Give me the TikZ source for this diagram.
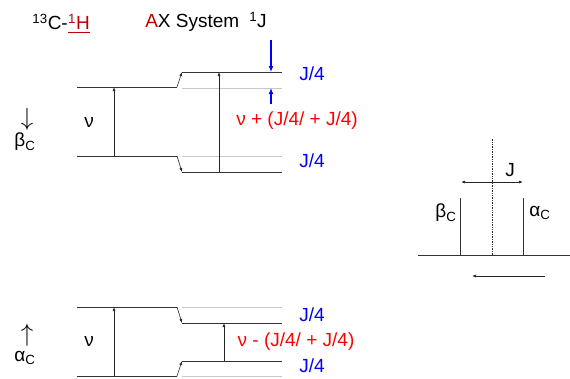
\documentclass[tikz,border=0pt]{standalone}
\usepackage{fontspec}
\setmainfont{Liberation Sans}
\usetikzlibrary{arrows.meta}
\definecolor{dred}{RGB}{192,0,0}
\definecolor{bblue}{RGB}{0,0,255}
\definecolor{rred}{RGB}{255,0,0}
\begin{document}
\begin{tikzpicture}[x=1pt,y=-1pt,
  font=\fontsize{19}{22}\selectfont,
  level/.style={draw=black!80, line width=0.9pt},
  ghost/.style={draw=black!22, line width=0.8pt},
  tr/.style={-{Latex[length=4pt,width=3pt]}, line width=0.6pt, draw=black!85},
  jarr/.style={-{Latex[length=6pt,width=5pt]}, line width=1.6pt, draw=bblue},
  lbl/.style={inner sep=0pt},
  spin/.style={inner sep=0pt, font=\fontsize{24}{26}\selectfont},
  jlbl/.style={inner sep=0pt, text=bblue},
  rlbl/.style={inner sep=0pt, text=rred}]
\useasboundingbox (0,0) rectangle (570,378);
% header
\node[lbl, anchor=east] (h1) at (68,22) {\textsuperscript{13}C-};
\node[lbl, anchor=west, text=dred] (h2) at (h1.east) {\textsuperscript{1}H};
\draw[dred, line width=1.4pt] ([yshift=-2.5pt]h2.south west) -- ([yshift=-2.5pt]h2.south east);
\node[lbl] (ax) at (206,22) {\textcolor{dred}{A}X System\hspace{10pt}\textsuperscript{1}J};
% top block (beta_C)
\coordinate (tl1a) at (77,87);   \coordinate (tl1b) at (177,87);
\coordinate (tl2a) at (77,156);  \coordinate (tl2b) at (177,156);
\coordinate (tr1a) at (182,72);  \coordinate (tr1b) at (282,72);
\coordinate (tr2a) at (182,172); \coordinate (tr2b) at (282,172);
\coordinate (tg1a) at (182,88);  \coordinate (tg1b) at (282,88);
\coordinate (tg2a) at (182,156); \coordinate (tg2b) at (282,156);
\draw[ghost] (tg1a) -- (tg1b);
\draw[ghost] (tg2a) -- (tg2b);
\draw[level] (tl1a) -- (tl1b);
\draw[level] (tl2a) -- (tl2b);
\draw[level] (tr1a) -- (tr1b);
\draw[level] (tr2a) -- (tr2b);
\draw[tr] (tl1b) -- (tr1a);
\draw[tr] (tl2b) -- (tr2a);
\coordinate (va) at (114,156); \coordinate (vb) at (114,87);
\draw[tr] (va) -- (vb);
\coordinate (wa) at (219,172); \coordinate (wb) at (219,72);
\draw[tr] (wa) -- (wb);
\coordinate (ja) at (271,40); \coordinate (jb) at (271,72);
\draw[jarr] (ja) -- (jb);
\coordinate (jc) at (271,104); \coordinate (jd) at (271,88);
\draw[jarr] (jc) -- (jd);
\node[jlbl] (j1) at (312,74) {J/4};
\node[jlbl] (j2) at (312,161) {J/4};
\node[rlbl] (n1) at (297,121) {ν + (J/4/ + J/4)};
\node[lbl] (nu1) at (89,122) {ν};
\node[spin] (ar1) at (27,119) {$\downarrow$};
\node[lbl] (b1) at (25,142) {β\textsubscript{C}};
% bottom block (alpha_C)
\coordinate (bl1a) at (77,307);  \coordinate (bl1b) at (177,307);
\coordinate (bl2a) at (77,376);  \coordinate (bl2b) at (177,376);
\coordinate (br1a) at (182,323); \coordinate (br1b) at (282,323);
\coordinate (br2a) at (182,361); \coordinate (br2b) at (282,361);
\coordinate (bg1a) at (182,307); \coordinate (bg1b) at (282,307);
\coordinate (bg2a) at (182,376); \coordinate (bg2b) at (282,376);
\draw[ghost] (bg1a) -- (bg1b);
\draw[ghost] (bg2a) -- (bg2b);
\draw[level] (bl1a) -- (bl1b);
\draw[level] (bl2a) -- (bl2b);
\draw[level] (br1a) -- (br1b);
\draw[level] (br2a) -- (br2b);
\draw[tr] (bl1b) -- (br1a);
\draw[tr] (bl2b) -- (br2a);
\coordinate (xa) at (114,376); \coordinate (xb) at (114,307);
\draw[tr] (xa) -- (xb);
\coordinate (ya) at (224,361); \coordinate (yb) at (224,323);
\draw[tr] (ya) -- (yb);
\node[jlbl] (j3) at (312,315) {J/4};
\node[jlbl] (j4) at (312,366) {J/4};
\node[rlbl] (n2) at (296,342) {ν - (J/4/ + J/4)};
\node[lbl] (nu2) at (89,341) {ν};
\node[spin] (ar2) at (27,335) {$\uparrow$};
\node[lbl] (a2) at (25,358) {α\textsubscript{C}};
% spectrum
\coordinate (s0) at (418,255); \coordinate (s1) at (570,255);
\draw[level] (s0) -- (s1);
\coordinate (p1a) at (460,255); \coordinate (p1b) at (460,198);
\coordinate (p2a) at (523,255); \coordinate (p2b) at (523,198);
\draw[level] (p1a) -- (p1b);
\draw[level] (p2a) -- (p2b);
\coordinate (ca) at (492,255); \coordinate (cb) at (492,138);
\draw[black!80, line width=0.7pt, densely dotted] (ca) -- (cb);
\coordinate (da) at (461,182); \coordinate (db) at (523,182);
\draw[{Latex[length=4pt,width=3pt]}-{Latex[length=4pt,width=3pt]}, line width=0.6pt, black!85] (da) -- (db);
\node[lbl] (jj) at (510,170) {J};
\node[lbl] (bs) at (446,213) {β\textsubscript{C}};
\node[lbl] (as) at (540,213) {α\textsubscript{C}};
\coordinate (ea) at (545,276); \coordinate (eb) at (472,276);
\draw[tr] (ea) -- (eb);
\end{tikzpicture}
\end{document}
